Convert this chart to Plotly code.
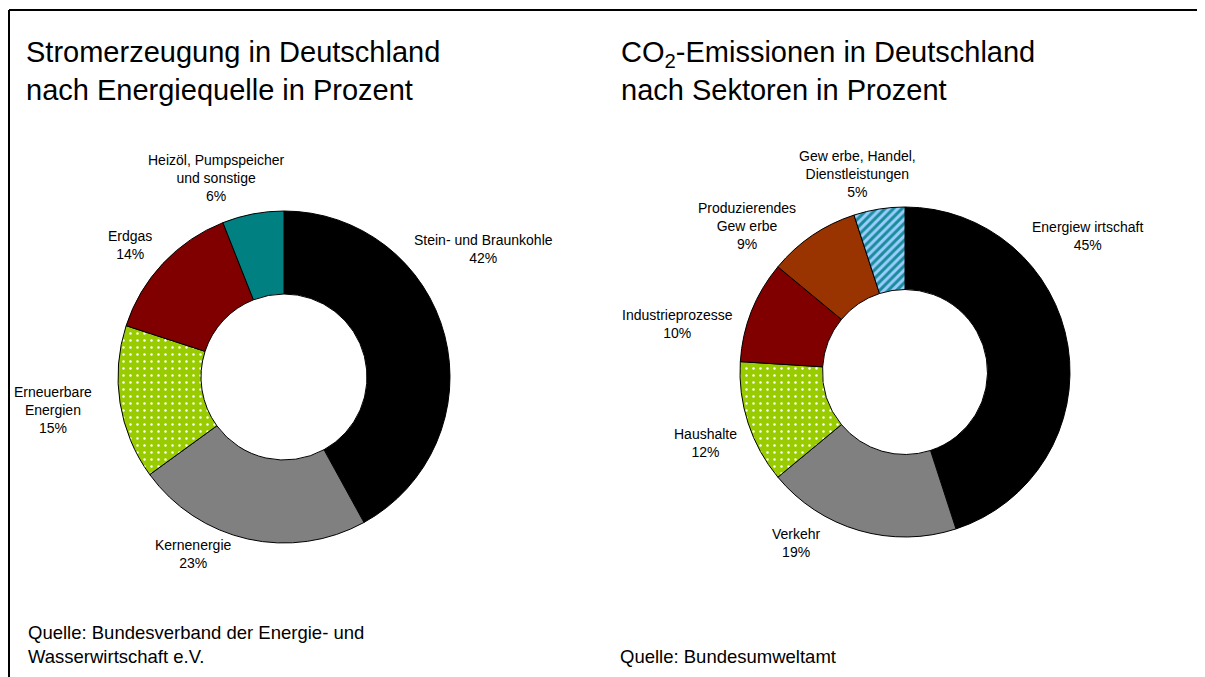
import plotly.graph_objects as go

# page has an 8px body margin; figure offset accordingly (right edge is clipped by the window)
OFF = 8
W, H = 1205, 677 - OFF

# ---- data ----
strom_labels = ["Stein- und Braunkohle", "Kernenergie", "Erneuerbare Energien", "Erdgas",
                "Heizöl, Pumpspeicher und sonstige"]
strom_values = [42, 23, 15, 14, 6]
strom_text = ["Stein- und Braunkohle<br>42%", "Kernenergie<br>23%", "Erneuerbare<br>Energien<br>15%",
              "Erdgas<br>14%", "Heizöl, Pumpspeicher<br>und sonstige<br>6%"]

co2_labels = ["Energiewirtschaft", "Verkehr", "Haushalte", "Industrieprozesse",
              "Produzierendes Gewerbe", "Gewerbe, Handel, Dienstleistungen"]
co2_values = [45, 19, 12, 10, 9, 5]
co2_text = ["Energiew irtschaft<br>45%", "Verkehr<br>19%", "Haushalte<br>12%", "Industrieprozesse<br>10%",
            "Produzierendes<br>Gew erbe<br>9%", "Gew erbe, Handel,<br>Dienstleistungen<br>5%"]

# ---- styles ----
strom_colors = ["#000000", "#808080", "#99CC00", "#800000", "#008080"]
strom_shapes = ["", "", ".", "", ""]
strom_fg = ["#000000", "#808080", "#FFFFFF", "#800000", "#008080"]

co2_colors = ["#000000", "#808080", "#99CC00", "#800000", "#993300", "#99CCFF"]
co2_shapes = ["", "", ".", "", "", "/"]
co2_fg = ["#000000", "#808080", "#FFFFFF", "#800000", "#993300", "#1A8C99"]

# label positions (pixel centres in the reference window)
strom_pos = [(483, 249), (193, 554), (53, 410), (130, 245), (216, 178)]
co2_pos = [(1087, 236), (796, 543), (705, 443), (677, 324), (747, 226), (857, 174)]


def px(x):
    return (x - OFF) / W


def py(y):
    return 1 - (y - OFF) / H


def dom(cx, cy, r):
    return dict(x=[px(cx - r), px(cx + r)], y=[py(cy + r), py(cy - r)])


fig = go.Figure()

fig.add_trace(go.Pie(
    labels=strom_labels, values=strom_values, sort=False, direction="clockwise", rotation=0,
    hole=0.5, textinfo="none", hoverinfo="label+percent", showlegend=False,
    domain=dom(284, 377, 166),
    marker=dict(colors=strom_colors, line=dict(color="#000000", width=1),
                pattern=dict(shape=strom_shapes, fgcolor=strom_fg, bgcolor=strom_colors,
                             size=7, solidity=0.1, fillmode="replace")),
))

fig.add_trace(go.Pie(
    labels=co2_labels, values=co2_values, sort=False, direction="clockwise", rotation=0,
    hole=0.5, textinfo="none", hoverinfo="label+percent", showlegend=False,
    domain=dom(905, 372, 165),
    marker=dict(colors=co2_colors, line=dict(color="#000000", width=1),
                pattern=dict(shape=co2_shapes, fgcolor=co2_fg, bgcolor=co2_colors,
                             size=[7, 7, 7, 7, 7, 6], solidity=[0.1, 0.1, 0.1, 0.1, 0.1, 0.5],
                             fillmode="replace")),
))

font = "Liberation Sans, Arial, sans-serif"
ann = []
for t, (x, y) in zip(strom_text, strom_pos):
    ann.append(dict(text=t, x=px(x), y=py(y), xref="paper", yref="paper", showarrow=False,
                    xanchor="center", yanchor="middle", align="center",
                    font=dict(family=font, size=14, color="#000000")))
for t, (x, y) in zip(co2_text, co2_pos):
    ann.append(dict(text=t, x=px(x), y=py(y), xref="paper", yref="paper", showarrow=False,
                    xanchor="center", yanchor="middle", align="center",
                    font=dict(family=font, size=14, color="#000000")))

# titles
ann.append(dict(text="Stromerzeugung in Deutschland<br>nach Energiequelle in Prozent",
                x=px(24), y=py(71), xref="paper", yref="paper", showarrow=False,
                xanchor="left", yanchor="middle", align="left",
                font=dict(family=font, size=29, color="#000000")))
ann.append(dict(text="CO<sub>2</sub>-Emissionen in Deutschland<br>nach Sektoren in Prozent",
                x=px(619), y=py(71), xref="paper", yref="paper", showarrow=False,
                xanchor="left", yanchor="middle", align="left",
                font=dict(family=font, size=29, color="#000000")))
# sources
ann.append(dict(text="Quelle: Bundesverband der Energie- und<br>Wasserwirtschaft e.V.",
                x=px(26), y=py(644), xref="paper", yref="paper", showarrow=False,
                xanchor="left", yanchor="middle", align="left",
                font=dict(family=font, size=18.5, color="#000000")))
ann.append(dict(text="Quelle: Bundesumweltamt",
                x=px(618), y=py(656), xref="paper", yref="paper", showarrow=False,
                xanchor="left", yanchor="middle", align="left",
                font=dict(family=font, size=18.5, color="#000000")))

shapes = [
    dict(type="line", xref="paper", yref="paper", x0=px(9), x1=1.0, y0=py(10), y1=py(10),
         line=dict(color="#000000", width=2)),
    dict(type="line", xref="paper", yref="paper", x0=px(9), x1=px(9), y0=py(10), y1=0.0,
         line=dict(color="#000000", width=2)),
]

fig.update_layout(
    width=W, height=H, margin=dict(l=0, r=0, t=0, b=0),
    paper_bgcolor="#FFFFFF", plot_bgcolor="#FFFFFF",
    annotations=ann, shapes=shapes,
)

fig.write_html("out.html")
